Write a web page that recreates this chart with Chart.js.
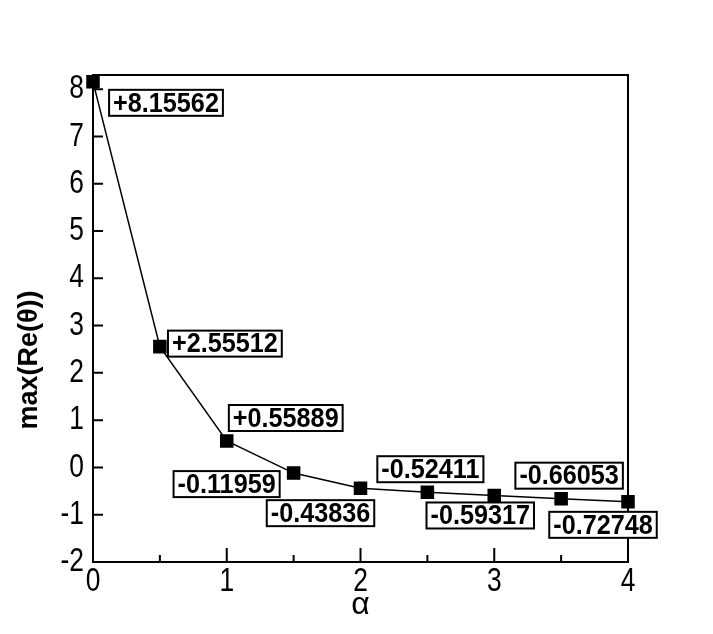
<!DOCTYPE html>
<html>
<head>
<meta charset="utf-8">
<script src="https://cdn.jsdelivr.net/npm/chart.js@4.4.1/dist/chart.umd.min.js"></script>
<style>
  html, body { margin: 0; padding: 0; background: #fff; }
  #wrap { width: 713px; height: 634px; }
</style>
</head>
<body>
<div id="wrap"><canvas id="myChart" width="713" height="634"></canvas></div>
<script>
// alpha values and max(Re(theta))
const alphas = [0, 0.5, 1, 1.5, 2, 2.5, 3, 3.5, 4];
const maxRe = [8.15562, 2.55512, 0.55889, -0.11959, -0.43836, -0.52411, -0.59317, -0.66053, -0.72748];
const valueLabels = ['+8.15562', '+2.55512', '+0.55889', '-0.11959', '-0.43836', '-0.52411', '-0.59317', '-0.66053', '-0.72748'];
const xTitle = 'α';
const yTitle = 'max(Re(θ))';

// where each label box sits relative to its point (dx, dy of box centre)
const labelOffsets = [[73, 21], [65, -3], [59, -23], [-67, 11], [-40, 25], [3, -23], [-14, 20], [8, -23], [-25, 23]];

const sans = '"Liberation Sans", Arial, sans-serif';
const ctx = document.getElementById('myChart').getContext('2d');

// text squeezed sideways, the original uses a tall narrow face
function squeezed(ctx, text, x, y, sx) {
    ctx.save();
    ctx.translate(x, y);
    ctx.scale(sx, 1);
    ctx.fillText(text, 0, 0);
    ctx.restore();
}

const frameAndTicks = {
    id: 'frameAndTicks',
    afterDraw(chart) {
        const { ctx, chartArea: a, scales } = chart;
        ctx.save();
        ctx.strokeStyle = '#000';
        ctx.lineWidth = 2;
        ctx.strokeRect(a.left, a.top, a.right - a.left, a.bottom - a.top);
        ctx.beginPath();
        // x ticks pointing up, major on integers, minor on halves
        for (let v = 0; v <= 4.0001; v += 0.5) {
            const px = scales.x.getPixelForValue(v);
            const len = Number.isInteger(v) ? 14 : 7;
            ctx.moveTo(px, a.bottom);
            ctx.lineTo(px, a.bottom - len);
        }
        // y ticks pointing right
        scales.y.ticks.forEach(t => {
            const py = scales.y.getPixelForValue(t.value);
            ctx.moveTo(a.left, py);
            ctx.lineTo(a.left + 10, py);
        });
        ctx.stroke();

        // tick labels
        ctx.fillStyle = '#000';
        ctx.font = '33px ' + sans;
        ctx.textBaseline = 'middle';
        ctx.textAlign = 'center';
        scales.x.ticks.forEach(t => {
            squeezed(ctx, String(t.value), scales.x.getPixelForValue(t.value), a.bottom + 20, 0.8);
        });
        ctx.textAlign = 'right';
        scales.y.ticks.forEach(t => {
            squeezed(ctx, String(t.value), a.left - 9, scales.y.getPixelForValue(t.value), 0.8);
        });

        // axis titles
        ctx.textAlign = 'center';
        ctx.font = '32px ' + sans;
        ctx.fillText(xTitle, (a.left + a.right) / 2, 605);
        ctx.save();
        ctx.translate(30, 360);
        ctx.rotate(-Math.PI / 2);
        ctx.font = 'bold 27px ' + sans;
        ctx.fillText(yTitle, 0, 0);
        ctx.restore();

        // value boxes
        ctx.font = 'bold 28px ' + sans;
        const meta = chart.getDatasetMeta(0);
        meta.data.forEach((pt, i) => {
            const cx = pt.x + labelOffsets[i][0];
            const cy = pt.y + labelOffsets[i][1];
            const w = ctx.measureText(valueLabels[i]).width * 0.9 + 8;
            const h = 26;
            ctx.fillStyle = '#fff';
            ctx.fillRect(cx - w / 2, cy - h / 2, w, h);
            ctx.lineWidth = 2;
            ctx.strokeRect(cx - w / 2, cy - h / 2, w, h);
            ctx.fillStyle = '#000';
            squeezed(ctx, valueLabels[i], cx, cy + 1, 0.9);
        });
        ctx.restore();
    }
};

const myChart = new Chart(ctx, {
    type: 'scatter',
    data: {
        datasets: [{
            data: alphas.map((a, i) => ({ x: a, y: maxRe[i] })),
            showLine: true,
            borderColor: '#000',
            borderWidth: 1.5,
            backgroundColor: '#000',
            pointStyle: 'rect',
            pointRadius: 8.5,
            pointHoverRadius: 8.5,
            clip: false
        }]
    },
    options: {
        responsive: false,
        animation: false,
        layout: { padding: { top: 75, right: 85, left: 0, bottom: 0 } },
        plugins: { legend: { display: false }, tooltip: { enabled: false } },
        scales: {
            x: {
                type: 'linear',
                min: 0,
                max: 4,
                grid: { display: false, drawTicks: false },
                border: { display: false },
                ticks: { stepSize: 1, display: false },
                afterFit(scale) { scale.height = 72; }
            },
            y: {
                type: 'linear',
                min: -2,
                max: 8.3,
                grid: { display: false, drawTicks: false },
                border: { display: false },
                ticks: { stepSize: 1, includeBounds: false, display: false },
                afterFit(scale) { scale.width = 93; }
            }
        }
    },
    plugins: [frameAndTicks]
});
</script>
</body>
</html>
